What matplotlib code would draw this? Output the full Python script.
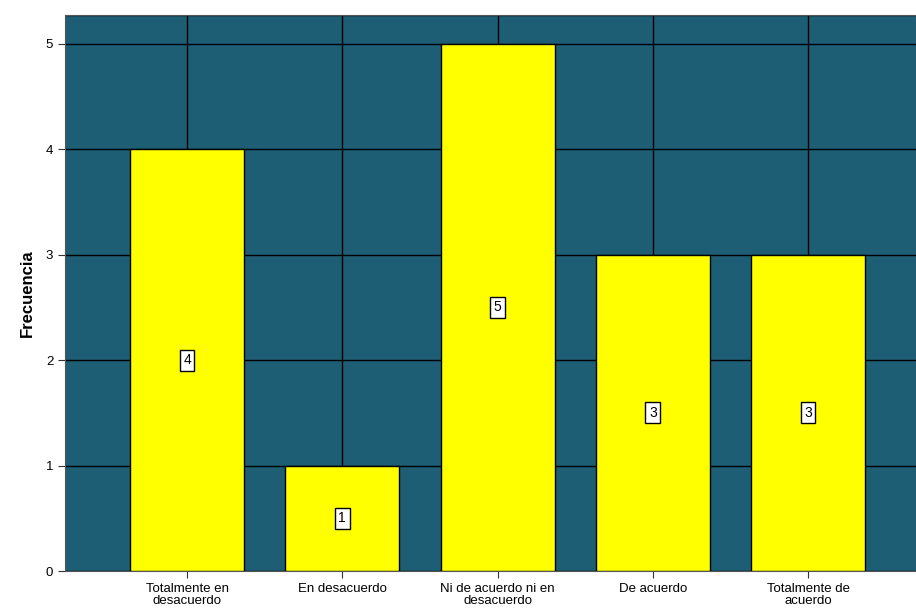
import matplotlib
matplotlib.use("Agg")
import matplotlib.pyplot as plt

categories = ["Totalmente en\ndesacuerdo", "En desacuerdo", "Ni de acuerdo ni en\ndesacuerdo",
              "De acuerdo", "Totalmente de\nacuerdo"]
values = [4, 1, 5, 3, 3]
yticks = [0, 1, 2, 3, 4, 5]

plt.rcParams['font.family'] = ['Liberation Sans', 'DejaVu Sans']

fig = plt.figure(figsize=(9.16, 6.16), dpi=100)
ax = fig.add_axes([65/916, 45/616, 1 - 65/916, (571-15)/616])
ax.set_facecolor('#1d5e74')

x = list(range(len(categories)))
ax.bar(x, values, width=0.735, color='#ffff00', edgecolor='black', linewidth=1, zorder=3)
for xi, v in zip(x, values):
    ax.text(xi, v/2, str(v), ha='center', va='center', fontsize=10, zorder=4,
            bbox=dict(boxstyle='square,pad=0.25', fc='white', ec='black', lw=1))

ax.set_xlim(-0.786, 4.695)
ax.set_ylim(0, 5.275)
ax.set_yticks(yticks)
ax.set_xticks(x)
ax.set_xticklabels(categories, fontsize=9.5, linespacing=0.9)
ax.tick_params(axis='y', labelsize=9.5, length=5, color='#333333')
ax.tick_params(axis='x', length=5, color='#333333', pad=4)
ax.grid(True, color='black', linewidth=1, zorder=1)
ax.set_axisbelow(True)
ax.axhline(5.275, color='black', lw=1)
for s in ax.spines.values():
    s.set_color('#555555')
ax.set_ylabel('Frecuencia', fontsize=12, fontweight='bold', labelpad=8)

fig.savefig('out.png', dpi=100)
